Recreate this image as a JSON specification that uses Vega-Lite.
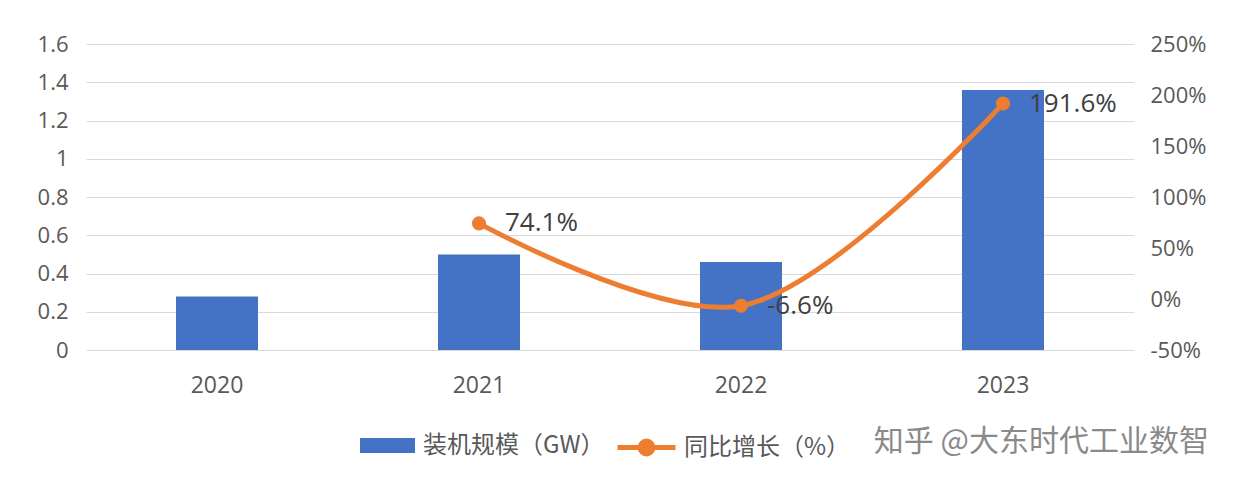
{
  "$schema": "https://vega.github.io/schema/vega-lite/v6.json",
  "width": 1048,
  "height": 306,
  "autosize": "none",
  "padding": {"left": 86, "top": 44, "right": 111, "bottom": 150},
  "background": "white",
  "config": {"font": "'Open Sans', 'Noto Sans CJK SC'", "view": {"stroke": null}},
  "title": {"text": "知乎 @大东时代工业数智", "orient": "bottom", "anchor": "end", "offset": -37, "dx": 3, "fontSize": 30, "fontWeight": "normal", "color": "#8a8a8a", "font": "Noto Sans CJK SC"},
  "data": {"values": [
    {"year": "2020", "gw": 0.28, "yoy": null},
    {"year": "2021", "gw": 0.50, "yoy": 74.1},
    {"year": "2022", "gw": 0.46, "yoy": -6.6},
    {"year": "2023", "gw": 1.36, "yoy": 191.6}
  ]},
  "encoding": {
    "x": {"field": "year", "type": "ordinal", "scale": {"paddingInner": 0, "paddingOuter": 0},
      "axis": {"title": null, "labelAngle": 0, "ticks": false, "domain": false, "labelPadding": 24, "labelFontSize": 23, "labelColor": "#595959"}}
  },
  "layer": [
    {
      "mark": {"type": "bar", "width": 82, "color": "#4472C4"},
      "encoding": {
        "y": {"field": "gw", "type": "quantitative", "scale": {"domain": [0, 1.6]},
          "axis": {"title": null, "values": [0, 0.2, 0.4, 0.6, 0.8, 1, 1.2, 1.4, 1.6], "format": ".1~f", "ticks": false, "domain": false, "labelPadding": 18, "labelFontSize": 22, "labelColor": "#595959", "gridColor": "#D9D9D9", "gridWidth": 1}},
        "fill": {"datum": "装机规模（GW）", "type": "nominal", "scale": {"range": ["#4472C4"]},
          "legend": {"title": null, "orient": "none", "legendX": 274, "legendY": 374, "padding": 0, "symbolType": "M-1,-0.27H1V0.27H-1Z", "symbolSize": 3025, "symbolStrokeWidth": 0, "labelOffset": 8, "labelFontSize": 24, "labelLimit": 0, "labelColor": "#595959", "labelFont": "Noto Sans CJK SC"}}
      }
    },
    {
      "transform": [{"filter": "isValid(datum.yoy)"}, {"calculate": "datum.yoy + '%'", "as": "lbl"}],
      "encoding": {
        "y": {"field": "yoy", "type": "quantitative", "scale": {"domain": [-50, 250]},
          "axis": {"title": null, "orient": "right", "values": [-50, 0, 50, 100, 150, 200, 250], "labelExpr": "datum.value + '%'", "grid": false, "ticks": false, "domain": false, "labelPadding": 16, "labelFontSize": 22, "labelColor": "#595959"}}
      },
      "layer": [
        {
          "mark": {"type": "line", "interpolate": "catmull-rom", "strokeWidth": 5, "color": "#ED7D31"},
          "encoding": {
            "stroke": {"datum": "同比增长（%）", "type": "nominal", "scale": {"range": ["#ED7D31"]},
              "legend": {"title": null, "orient": "none", "legendX": 529, "legendY": 372, "padding": 0, "symbolType": "M-1,0H1M0.22,0A0.22,0.22 0 1,1 -0.22,0A0.22,0.22 0 1,1 0.22,0", "symbolSize": 3364, "symbolStrokeWidth": 5, "symbolFillColor": "#ED7D31", "labelOffset": 6, "labelFontSize": 24, "labelLimit": 0, "labelColor": "#595959", "labelFont": "Noto Sans CJK SC"}}
          }
        },
        {
          "mark": {"type": "point", "filled": true, "size": 200, "color": "#ED7D31", "opacity": 1}
        },
        {
          "mark": {"type": "text", "align": "left", "baseline": "middle", "dx": 26, "fontSize": 26, "color": "#404040"},
          "encoding": {"text": {"field": "lbl"}}
        }
      ]
    }
  ],
  "resolve": {"scale": {"y": "independent", "fill": "independent", "stroke": "independent"}}
}
